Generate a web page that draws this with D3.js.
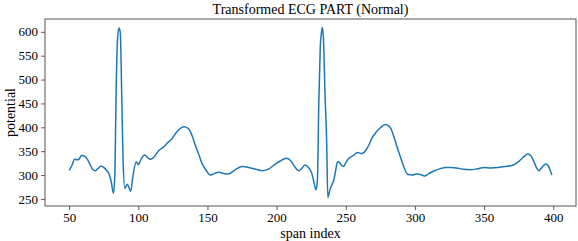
<!DOCTYPE html>
<html><head><meta charset="utf-8">
<script src="https://cdn.jsdelivr.net/npm/d3@7"></script>
<style>body{margin:0;background:#fff}svg{display:block}text{font-family:"Liberation Serif","Times New Roman",serif;fill:#000}</style>
</head><body><svg id="c" width="578" height="241"></svg>
<script>
const title = "Transformed ECG PART (Normal)";
const xLabel = "span index";
const yLabel = "potential";
const xTicks = [50,100,150,200,250,300,350,400];
const yTicks = [250,300,350,400,450,500,550,600];
const spanIndex = [50,52,54,56,57,59,61,63,65,67,69,71,73,75,77,79,80.5,82,83,84,85,86,87,88,89,90.3,92,94.5,96,98.5,100,102,104.5,107,109,112,115,118,121,124,127.5,130,133,136,139,141,143.5,146,149,152,155,158,161,165,170,175,180,185,190,195,199,203,207,209,211,213,216,218.5,220.5,223,225.5,227,228.5,229.5,230.5,231.5,232.5,233,233.8,235,236.2,237,238.6,240,241.5,243,244,245.5,247,248.5,250,252,255.5,258.5,261.5,265,267,269,272,275,278.5,281,283,285,287,289.5,292,295,298,301,304,307,310,314,318,322,326,330,335,340,345,350,355,360,365,370,373,376,379,381.5,384,386,388,389.5,391,393,394.5,396.5,398,399];
const potential = [310,320,333,332,333,341,340,334,323,312,309,314,319,316,310,301,285,262,297,480,585,608,598,470,330,272,281,266,295,328,322,333,342,336,333,340,352,358,367,375,389,397,401,398,382,364,345,325,310,300,303,306,304,302,311,318,316,312,309,314,323,330,335,333,327,318,309,315,321,316,303,285,269,290,450,563,600,609,590,470,368,253,270,280,291,315,328,326,320,318,326,334,341,347,345,354,365,378,390,399,406,403,395,378,360,338,317,301,300,302,301,298,303,309,313,316,316,315,312,311,313,316,315,316,318,320,324,331,339,344,340,328,315,309,313,320,323,319,308,300];

const svg = d3.select("#c");
const L=45,R=576,T=19,B=206;
const data = spanIndex.map((x,i)=>({x,y:potential[i]}));
const xmin=d3.min(spanIndex), xmax=d3.max(spanIndex);
const ymin=d3.min(potential), ymax=d3.max(potential);
const xp=(xmax-xmin)*0.05, yp=(ymax-ymin)*0.05;
const x=d3.scaleLinear().domain([xmin-xp,xmax+xp]).range([L,R]);
const y=d3.scaleLinear().domain([ymin-yp,ymax+yp]).range([B,T]);

const line=d3.line().x(d=>x(d.x)).y(d=>y(d.y)).curve(d3.curveMonotoneX);
svg.append("path").datum(data).attr("d",line).attr("fill","none").attr("stroke","#1f77b4").attr("stroke-width",1.5);

const xa=svg.append("g").attr("transform",`translate(0,${B})`).call(d3.axisBottom(x).tickValues(xTicks).tickSize(4).tickPadding(3));
const ya=svg.append("g").attr("transform",`translate(${L},0)`).call(d3.axisLeft(y).tickValues(yTicks).tickSize(4).tickPadding(3));
[xa,ya].forEach(g=>{g.select(".domain").remove();g.selectAll("line").attr("stroke","#333").attr("stroke-width",0.8);g.selectAll("text").style("font-family",'"Liberation Serif",serif').style("font-size","13px").attr("fill","#000");});
svg.append("rect").attr("x",L).attr("y",T).attr("width",R-L).attr("height",B-T).attr("fill","none").attr("stroke","#555").attr("stroke-width",1);

svg.append("text").attr("x",(L+R)/2).attr("y",14).attr("text-anchor","middle").style("font-size","14px").text(title);
svg.append("text").attr("x",(L+R)/2).attr("y",238).attr("text-anchor","middle").style("font-size","14px").text(xLabel);
svg.append("text").attr("transform",`translate(15,${(T+B)/2}) rotate(-90)`).attr("text-anchor","middle").style("font-size","14px").text(yLabel);
</script></body></html>
